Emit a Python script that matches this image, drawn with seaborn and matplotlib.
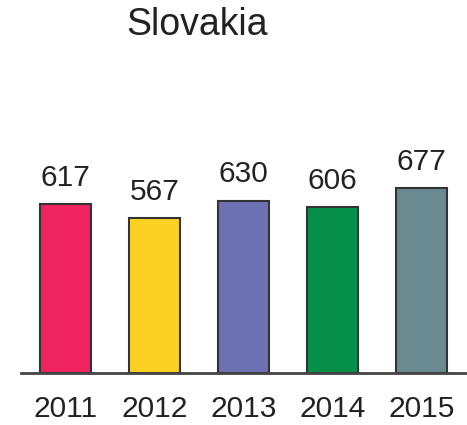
import matplotlib
matplotlib.use("Agg")
import matplotlib.pyplot as plt
import seaborn as sns
import pandas as pd

years = ["2011", "2012", "2013", "2014", "2015"]
values = [617, 567, 630, 606, 677]
colors = ["#EE2360", "#FCD122", "#6E70B4", "#068F48", "#6A8A91"]
title = "Slovakia"

sns.set_theme(style="white")
plt.rcParams['font.family'] = ['Liberation Sans', 'DejaVu Sans']

df = pd.DataFrame({"year": years, "value": values})

fig = plt.figure(figsize=(4.67, 4.25), dpi=100)
ax = fig.add_axes([0.045, 0.1224, 0.953, 0.5143])
sns.barplot(data=df, x="year", y="value", hue="year", palette=colors,
            legend=False, width=0.58, edgecolor="#333333", linewidth=1.5,
            saturation=1, ax=ax)
ax.set_xlim(-0.5, 4.5)
ax.set_ylim(0, 800)
for s in ["top", "right", "left"]:
    ax.spines[s].set_visible(False)
ax.spines["bottom"].set_color("#444444")
ax.spines["bottom"].set_linewidth(2)
ax.set_yticks([])
ax.set_xlabel("")
ax.set_ylabel("")
ax.tick_params(axis="x", length=0, pad=16, labelsize=21.5, labelcolor="#222222")
for p in ax.patches:
    h = p.get_height()
    ax.annotate(f"{h:.0f}", (p.get_x() + p.get_width() / 2, h),
                xytext=(0, 9), textcoords="offset points",
                ha="center", va="bottom", fontsize=21.5, color="#222222")
fig.text(197/467, 1 - 25/425, title, ha="center", va="center",
         fontsize=27, color="#222222")
fig.savefig("out.png", dpi=100)
